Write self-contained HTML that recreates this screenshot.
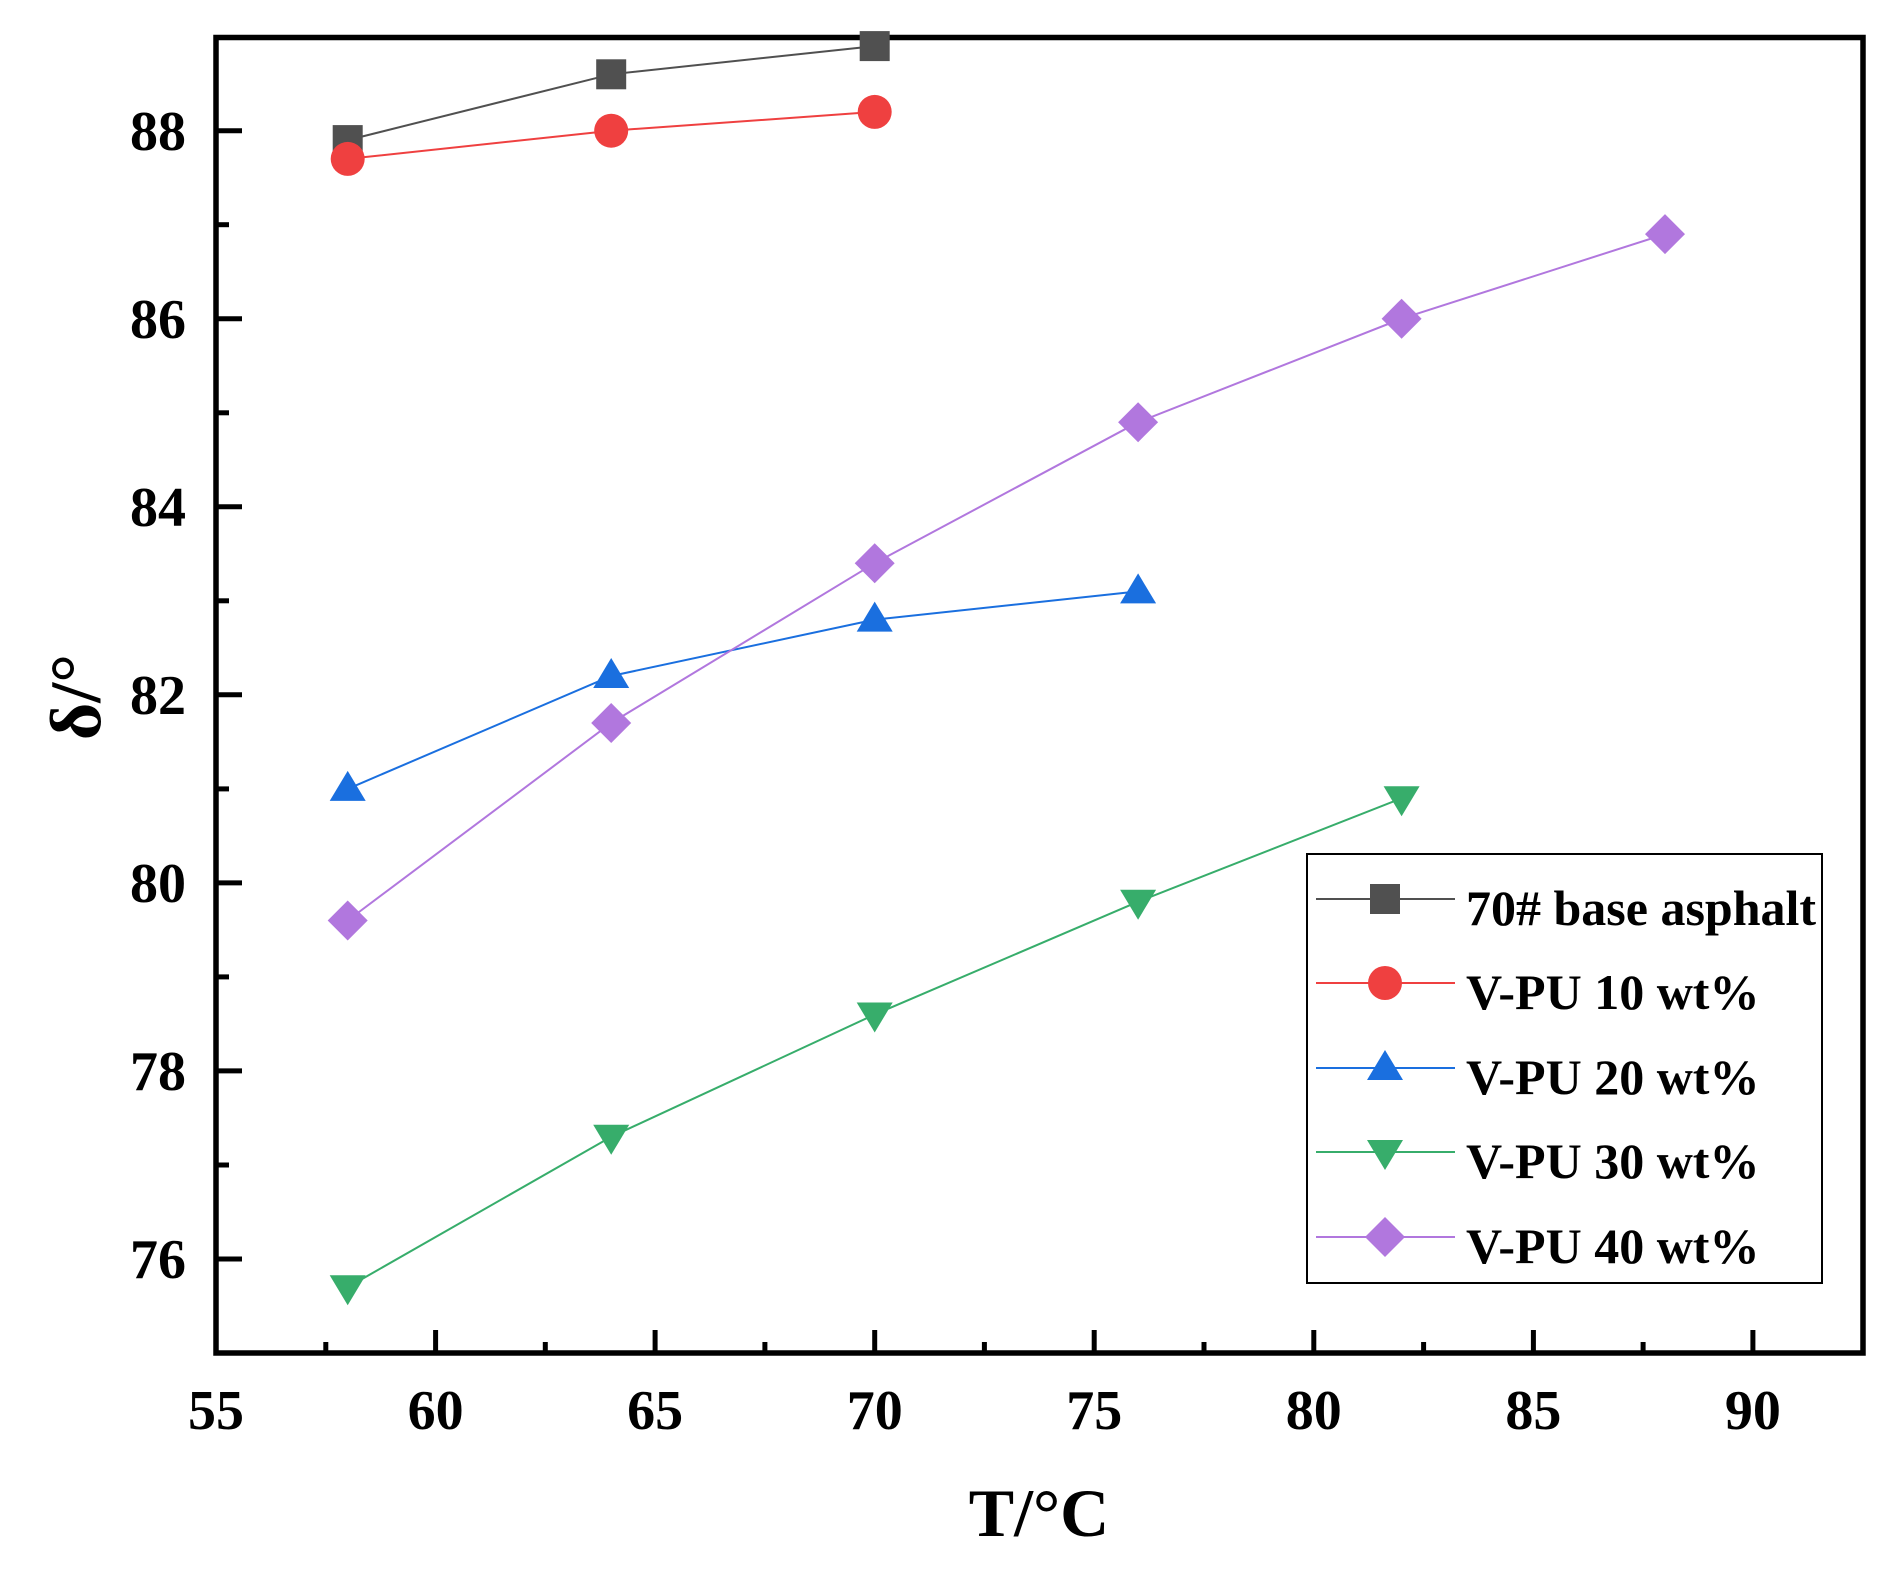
<!DOCTYPE html>
<html><head><meta charset="utf-8"><style>
html,body{margin:0;padding:0;background:#fff;}
svg{display:block;}
text{font-family:"Liberation Serif",serif;font-weight:bold;fill:#000;}
</style></head><body>
<svg width="1895" height="1571" viewBox="0 0 1895 1571" xmlns="http://www.w3.org/2000/svg">
<defs>
<rect id="sq" x="-15" y="-15" width="30" height="30" fill="#505050"/>
<circle id="ci" r="17" fill="#EF4040"/>
<path id="tu" d="M0,-18 L18,12 L-18,12 Z" fill="#1A6FDF"/>
<path id="td" d="M0,18 L18,-12 L-18,-12 Z" fill="#37AD6B"/>
<path id="di" d="M0,-20 L20,0 L0,20 L-20,0 Z" fill="#B177DE"/>
</defs>
<g stroke="#000" stroke-width="5">
<line x1="216" y1="130.7" x2="242" y2="130.7"/><line x1="216" y1="318.7" x2="242" y2="318.7"/>
<line x1="216" y1="506.8" x2="242" y2="506.8"/><line x1="216" y1="694.8" x2="242" y2="694.8"/>
<line x1="216" y1="882.9" x2="242" y2="882.9"/><line x1="216" y1="1070.9" x2="242" y2="1070.9"/>
<line x1="216" y1="1259" x2="242" y2="1259"/>
<line x1="216" y1="224.7" x2="229" y2="224.7"/><line x1="216" y1="412.8" x2="229" y2="412.8"/>
<line x1="216" y1="600.8" x2="229" y2="600.8"/><line x1="216" y1="788.9" x2="229" y2="788.9"/>
<line x1="216" y1="976.9" x2="229" y2="976.9"/><line x1="216" y1="1165" x2="229" y2="1165"/>
<line x1="435.6" y1="1353" x2="435.6" y2="1330"/><line x1="655.1" y1="1353" x2="655.1" y2="1330"/>
<line x1="874.7" y1="1353" x2="874.7" y2="1330"/><line x1="1094.2" y1="1353" x2="1094.2" y2="1330"/>
<line x1="1313.8" y1="1353" x2="1313.8" y2="1330"/><line x1="1533.4" y1="1353" x2="1533.4" y2="1330"/>
<line x1="1752.9" y1="1353" x2="1752.9" y2="1330"/>
<line x1="325.8" y1="1353" x2="325.8" y2="1342"/><line x1="545.3" y1="1353" x2="545.3" y2="1342"/>
<line x1="764.9" y1="1353" x2="764.9" y2="1342"/><line x1="984.4" y1="1353" x2="984.4" y2="1342"/>
<line x1="1204" y1="1353" x2="1204" y2="1342"/><line x1="1423.6" y1="1353" x2="1423.6" y2="1342"/>
<line x1="1643.1" y1="1353" x2="1643.1" y2="1342"/>
</g>
<rect x="216" y="37.5" width="1647" height="1315.5" fill="none" stroke="#000" stroke-width="5.5"/>
<g font-size="56" text-anchor="end">
<text x="186" y="150">88</text><text x="186" y="338">86</text><text x="186" y="526">84</text>
<text x="186" y="714">82</text><text x="186" y="902">80</text><text x="186" y="1090">78</text>
<text x="186" y="1278">76</text>
</g>
<g font-size="56" text-anchor="middle">
<text x="216" y="1429">55</text><text x="435.6" y="1429">60</text><text x="655.1" y="1429">65</text>
<text x="874.7" y="1429">70</text><text x="1094.2" y="1429">75</text><text x="1313.8" y="1429">80</text>
<text x="1533.4" y="1429">85</text><text x="1752.9" y="1429">90</text>
</g>
<text x="1039" y="1536" font-size="68" text-anchor="middle">T/°C</text>
<text transform="translate(100,697) rotate(-90)" font-size="72" text-anchor="middle">δ/°</text>
<g fill="none" stroke-width="2">
<polyline stroke="#505050" points="347.7,140.1 611.2,74.3 874.7,46.1"/>
<polyline stroke="#EF4040" points="347.7,158.9 611.2,130.7 874.7,111.9"/>
<polyline stroke="#1A6FDF" points="347.7,788.9 611.2,676 874.7,619.6 1138.1,591.4"/>
<polyline stroke="#37AD6B" points="347.7,1287.2 611.2,1136.8 874.7,1014.5 1138.1,901.7 1401.6,798.3"/>
<polyline stroke="#B177DE" points="347.7,920.5 611.2,723 874.7,563.2 1138.1,422.2 1401.6,318.7 1665,234.1"/>
</g>
<use href="#sq" x="347.7" y="140.1"/><use href="#sq" x="611.2" y="74.3"/><use href="#sq" x="874.7" y="46.1"/>
<use href="#ci" x="347.7" y="158.9"/><use href="#ci" x="611.2" y="130.7"/><use href="#ci" x="874.7" y="111.9"/>
<use href="#tu" x="347.7" y="788.9"/><use href="#tu" x="611.2" y="676"/><use href="#tu" x="874.7" y="619.6"/><use href="#tu" x="1138.1" y="591.4"/>
<use href="#td" x="347.7" y="1287.2"/><use href="#td" x="611.2" y="1136.8"/><use href="#td" x="874.7" y="1014.5"/><use href="#td" x="1138.1" y="901.7"/><use href="#td" x="1401.6" y="798.3"/>
<use href="#di" x="347.7" y="920.5"/><use href="#di" x="611.2" y="723"/><use href="#di" x="874.7" y="563.2"/><use href="#di" x="1138.1" y="422.2"/><use href="#di" x="1401.6" y="318.7"/><use href="#di" x="1665" y="234.1"/>
<rect x="1307" y="854" width="515" height="429" fill="#fff" stroke="#000" stroke-width="2"/>
<g stroke-width="2">
<line x1="1316" y1="899" x2="1455" y2="899" stroke="#505050"/>
<line x1="1316" y1="983" x2="1455" y2="983" stroke="#EF4040"/>
<line x1="1316" y1="1068" x2="1455" y2="1068" stroke="#1A6FDF"/>
<line x1="1316" y1="1152" x2="1455" y2="1152" stroke="#37AD6B"/>
<line x1="1316" y1="1237" x2="1455" y2="1237" stroke="#B177DE"/>
</g>
<use href="#sq" x="1385" y="899"/><use href="#ci" x="1385" y="983"/><use href="#tu" x="1385" y="1068"/>
<use href="#td" x="1385" y="1152"/><use href="#di" x="1385" y="1237"/>
<g font-size="50">
<text x="1466" y="925">70# base asphalt</text>
<text x="1466" y="1009">V-PU 10 wt%</text>
<text x="1466" y="1094">V-PU 20 wt%</text>
<text x="1466" y="1178">V-PU 30 wt%</text>
<text x="1466" y="1263">V-PU 40 wt%</text>
</g>
</svg>
</body></html>
